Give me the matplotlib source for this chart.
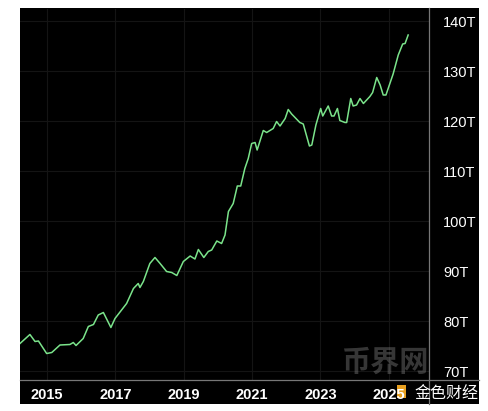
import matplotlib
matplotlib.use("Agg")
import matplotlib.pyplot as plt
from matplotlib.patches import Rectangle
from matplotlib.lines import Line2D

# Data (decimal year, value in trillions)
years = [2014.21, 2014.50, 2014.65, 2014.75, 2014.99, 2015.14, 2015.38, 2015.67,
         2015.77, 2015.85, 2016.06, 2016.21, 2016.36, 2016.50, 2016.65, 2016.87,
         2016.99, 2017.33, 2017.53, 2017.67, 2017.72, 2017.82, 2018.01, 2018.16,
         2018.31, 2018.50, 2018.65, 2018.80, 2018.99, 2019.19, 2019.33, 2019.43,
         2019.59, 2019.72, 2019.82, 2019.97, 2020.11, 2020.21, 2020.31, 2020.45,
         2020.57, 2020.67, 2020.79, 2020.89, 2020.99, 2021.09, 2021.15, 2021.33,
         2021.43, 2021.62, 2021.72, 2021.82, 2021.97, 2022.06, 2022.16, 2022.40,
         2022.50, 2022.68, 2022.75, 2022.87, 2023.01, 2023.07, 2023.23, 2023.33,
         2023.40, 2023.50, 2023.57, 2023.72, 2023.77, 2023.89, 2023.96, 2024.06,
         2024.16, 2024.26, 2024.45, 2024.53, 2024.65, 2024.75, 2024.84, 2024.92,
         2025.13, 2025.28, 2025.41, 2025.48, 2025.57]
values = [75.5, 77.3, 75.9, 76.0, 73.5, 73.7, 75.2, 75.3,
          75.7, 75.1, 76.5, 78.9, 79.3, 81.2, 81.7, 78.7,
          80.5, 83.5, 86.5, 87.5, 86.7, 87.9, 91.5, 92.7,
          91.5, 89.9, 89.7, 89.1, 91.9, 93.0, 92.4, 94.3,
          92.7, 93.9, 94.2, 96.0, 95.5, 97.2, 101.9, 103.5,
          107.0, 107.0, 110.5, 112.5, 115.5, 115.7, 114.2, 118.1,
          117.7, 118.5, 119.9, 119.0, 120.5, 122.3, 121.4, 119.7,
          119.4, 115.0, 115.2, 119.2, 122.5, 121.0, 123.0, 121.0,
          121.0, 122.5, 120.1, 119.7, 119.7, 124.5, 123.0, 123.2,
          124.5, 123.5, 124.9, 125.7, 128.7, 127.2, 125.2, 125.2,
          129.4, 133.2, 135.4, 135.5, 137.2]

x_ticks = [2015, 2017, 2019, 2021, 2023, 2025]
y_ticks = [70, 80, 90, 100, 110, 120, 130, 140]

W, H = 489, 411
fig = plt.figure(figsize=(W / 100, H / 100), dpi=100, facecolor="white")

# black panel behind plot and labels
fig.patches.append(Rectangle((20 / W, (H - 404) / H), 459 / W, 396 / H,
                             transform=fig.transFigure, facecolor="black",
                             edgecolor="none", zorder=-5))

ax = fig.add_axes([20 / W, (H - 380) / H, 409 / W, 371 / H])
ax.set_facecolor("black")
ax.plot(years, values, color="#7be48b", linewidth=1.1)

ax.set_xlim(2014.21, 2026.18)
ax.set_ylim(68.2, 142.4)
ax.set_xticks(x_ticks)
ax.set_xticklabels([str(y) for y in x_ticks])
ax.set_yticks(y_ticks)
ax.set_yticklabels([f"{v}T" for v in y_ticks])
ax.yaxis.tick_right()
ax.tick_params(axis="x", length=0, pad=6, colors="white", labelsize=10.5)
ax.tick_params(axis="y", length=0, pad=10, colors="white", labelsize=10.5)
for lbl in ax.get_xticklabels():
    lbl.set_fontfamily("Liberation Sans")
    lbl.set_fontweight("bold")
for lbl in ax.get_yticklabels():
    lbl.set_fontfamily("Liberation Sans")
ax.grid(True, color="#141414", linewidth=0.8)
for s in ax.spines.values():
    s.set_visible(False)

# axis lines run across the whole black panel
fig.add_artist(Line2D([20 / W, 479 / W], [(H - 380) / H] * 2,
                      transform=fig.transFigure, color="#777777", linewidth=0.9))
fig.add_artist(Line2D([429 / W] * 2, [(H - 404) / H, (H - 8) / H],
                      transform=fig.transFigure, color="#777777", linewidth=0.9))

# watermarks
fig.text(385 / W, (H - 362) / H, "币界网", fontsize=21, color="#888888", alpha=0.4,
         ha="center", va="center", family=["Noto Sans CJK SC", "DejaVu Sans"],
         fontweight="bold")
fig.patches.append(Rectangle((397 / W, (H - 398) / H), 9 / W, 13 / H,
                             transform=fig.transFigure, facecolor="#e8a020",
                             edgecolor="none", zorder=-1))
fig.text(446 / W, (H - 393) / H, "金色财经", fontsize=11.5, color="white",
         ha="center", va="center", family=["Noto Sans CJK SC", "DejaVu Sans"])

fig.savefig("out.png", dpi=100, facecolor="white")
